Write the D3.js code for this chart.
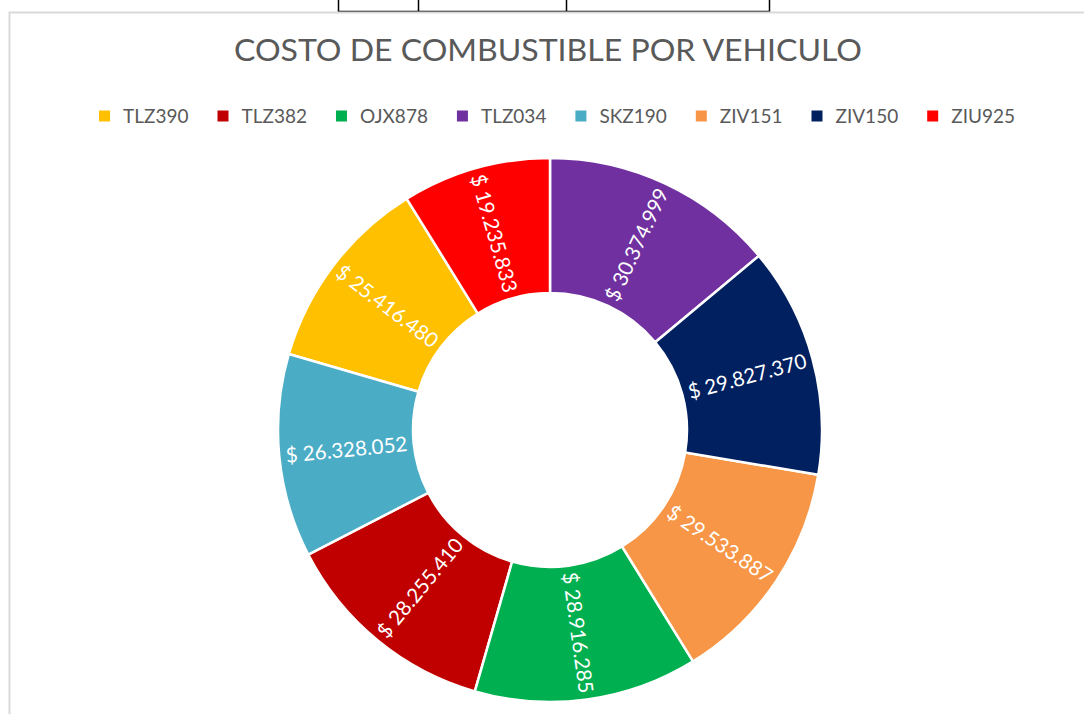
<!DOCTYPE html>
<html lang="es">
<head>
<meta charset="UTF-8">
<title>Costo de combustible por vehiculo</title>
<script src="https://d3js.org/d3.v7.min.js"></script>
<style>
    body { margin: 0; background: #fff; }
    text { font-family: Lato, "Open Sans", sans-serif; }
</style>
</head>
<body>
<script>
    // data (legend order)
    const vehicles = ["TLZ390", "TLZ382", "OJX878", "TLZ034", "SKZ190", "ZIV151", "ZIV150", "ZIU925"];
    const costs = [25416480, 28255410, 28916285, 30374999, 26328052, 29533887, 29827370, 19235833];
    const colors = ["#FFC000", "#C00000", "#00B050", "#7030A0", "#4BACC6", "#F79646", "#002060", "#FF0000"];

    const width = 1084, height = 714;
    const cx = 550, cy = 430;
    const outerR = 272, innerR = 137;

    const svg = d3.select("body").append("svg")
        .attr("width", width)
        .attr("height", height);

    // sheet cells peeking above the chart
    const cellX = [338, 418, 566, 769];
    cellX.forEach(x => {
        svg.append("line")
            .attr("x1", x + 0.5).attr("x2", x + 0.5)
            .attr("y1", 0).attr("y2", 12)
            .attr("stroke", "#000").attr("stroke-width", 1.5);
    });
    svg.append("line")
        .attr("x1", 338).attr("x2", 770)
        .attr("y1", 11.5).attr("y2", 11.5)
        .attr("stroke", "#000").attr("stroke-width", 1.5);

    // chart frame
    svg.append("rect")
        .attr("x", 9.5).attr("y", 12.5)
        .attr("width", 1100).attr("height", 720)
        .attr("fill", "#fff")
        .attr("stroke", "#d9d9d9")
        .attr("stroke-width", 2);

    // title
    svg.append("text")
        .attr("x", 548)
        .attr("y", 61)
        .attr("text-anchor", "middle")
        .attr("fill", "#595959")
        .attr("font-size", "31px")
        .attr("textLength", 628)
        .attr("lengthAdjust", "spacingAndGlyphs")
        .text("COSTO DE COMBUSTIBLE POR VEHICULO");

    // legend
    const color = d3.scaleOrdinal().domain(vehicles).range(colors);
    const legend = svg.append("g");
    let lx = 0;
    vehicles.forEach(v => {
        const item = legend.append("g").attr("transform", "translate(" + lx + ",0)");
        item.append("rect")
            .attr("x", 0).attr("y", -5.5)
            .attr("width", 11).attr("height", 11)
            .attr("fill", color(v));
        const t = item.append("text")
            .attr("x", 24)
            .attr("y", 0)
            .attr("dy", "0.35em")
            .attr("fill", "#595959")
            .attr("font-size", "19px")
            .text(v);
        lx += 24 + t.node().getComputedTextLength() + 29;
    });
    legend.attr("transform", "translate(" + (557 - (lx - 29) / 2) + ",116)");

    // donut
    const pie = d3.pie()
        .value(d => d.cost)
        .sort((a, b) => b.cost - a.cost);
    const arcs = pie(vehicles.map((v, i) => ({ name: v, cost: costs[i] })));

    const arc = d3.arc().innerRadius(innerR).outerRadius(outerR);
    const g = svg.append("g").attr("transform", "translate(" + cx + "," + cy + ")");

    g.selectAll("path")
        .data(arcs)
        .enter()
        .append("path")
        .attr("d", arc)
        .attr("fill", d => color(d.data.name))
        .attr("stroke", "#fff")
        .attr("stroke-width", 2.5);

    const fmt = d3.formatLocale({ decimal: ",", thousands: ".", grouping: [3], currency: ["$ ", ""] }).format("$,.0f");
    const midR = (innerR + outerR) / 2;

    g.selectAll(".lbl")
        .data(arcs)
        .enter()
        .append("text")
        .attr("class", "lbl")
        .attr("transform", d => {
            const a = (d.startAngle + d.endAngle) / 2;
            const deg = a * 180 / Math.PI;
            const x = midR * Math.sin(a), y = -midR * Math.cos(a);
            const rot = deg < 180 ? deg - 90 : deg + 90;
            return "translate(" + x + "," + y + ") rotate(" + rot + ")";
        })
        .attr("text-anchor", "middle")
        .attr("dy", "0.35em")
        .attr("fill", "#fff")
        .attr("font-size", "20.5px")
        .text(d => fmt(d.data.cost));
</script>
</body>
</html>
